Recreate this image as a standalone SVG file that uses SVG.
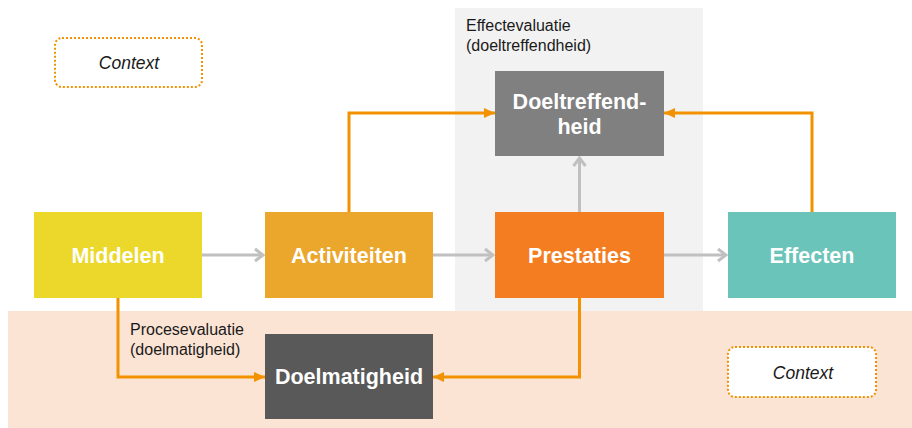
<svg xmlns="http://www.w3.org/2000/svg" width="912" height="428" viewBox="0 0 912 428">
<style>
.node text{font-family:"Liberation Sans",Arial,sans-serif;font-weight:bold;font-size:21.5px;fill:#fff;text-anchor:middle}
.lbl{font-family:"Liberation Sans",Arial,sans-serif;font-size:16px;fill:#1a1a1a}
.ctx rect{fill:#fff;stroke:#F39200;stroke-width:2;stroke-dasharray:2 2}
.ctx text{font-family:"Liberation Sans",Arial,sans-serif;font-style:italic;font-size:17.5px;fill:#1a1a1a;text-anchor:middle}
.g{stroke:#C0C0C0;stroke-width:3;fill:none}
.o{stroke:#F39200;stroke-width:3;fill:none}
</style>
<defs>
<marker id="ag" markerWidth="12" markerHeight="16" refX="10" refY="8" orient="auto" markerUnits="userSpaceOnUse">
<path d="M2,2 L10,8 L2,14" fill="none" stroke="#C0C0C0" stroke-width="3"/>
</marker>
<marker id="ao" markerWidth="12" markerHeight="12" refX="11" refY="6" orient="auto" markerUnits="userSpaceOnUse">
<path d="M0,1 L11,6 L0,11 Z" fill="#F39200"/>
</marker>
</defs>
<rect x="455" y="8" width="248" height="303" fill="#F2F2F2"/>
<rect x="8" y="311" width="904" height="117" fill="#FCE4D5"/>
<text class="lbl" x="466" y="31">Effectevaluatie</text>
<text class="lbl" x="466" y="51">(doeltreffendheid)</text>
<text class="lbl" x="130" y="335">Procesevaluatie</text>
<text class="lbl" x="130" y="355">(doelmatigheid)</text>
<g id="connectors">
<line class="g" x1="202" y1="255" x2="263" y2="255" marker-end="url(#ag)"/>
<line class="g" x1="433" y1="255" x2="493" y2="255" marker-end="url(#ag)"/>
<line class="g" x1="664" y1="255" x2="726" y2="255" marker-end="url(#ag)"/>
<line class="g" x1="579.5" y1="212" x2="579.5" y2="158" marker-end="url(#ag)"/>
<polyline class="o" points="349,212 349,113 495,113" marker-end="url(#ao)"/>
<polyline class="o" points="812,212 812,113 664,113" marker-end="url(#ao)"/>
<polyline class="o" points="118,298 118,377 265,377" marker-end="url(#ao)"/>
<polyline class="o" points="579.5,298 579.5,377 433,377" marker-end="url(#ao)"/>
</g>
<g id="middelen" class="node"><rect x="34" y="212" width="168" height="86" fill="#EBD82B"/><text x="118" y="263">Middelen</text></g>
<g id="activiteiten" class="node"><rect x="265" y="212" width="168" height="86" fill="#EBA62C"/><text x="349" y="263">Activiteiten</text></g>
<g id="prestaties" class="node"><rect x="495" y="212" width="169" height="86" fill="#F47D22"/><text x="579.5" y="263">Prestaties</text></g>
<g id="effecten" class="node"><rect x="728" y="212" width="168" height="86" fill="#6BC4B9"/><text x="812" y="263">Effecten</text></g>
<g id="doeltreffendheid" class="node"><rect x="495" y="71" width="169" height="85" fill="#808080"/><text x="579.5" y="109">Doeltreffend-</text><text x="579.5" y="134">heid</text></g>
<g id="doelmatigheid" class="node"><rect x="265" y="334" width="168" height="85" fill="#595959"/><text x="349" y="384">Doelmatigheid</text></g>
<g id="context1" class="ctx"><rect x="55" y="38" width="147" height="49" rx="7"/><text x="129" y="69">Context</text></g>
<g id="context2" class="ctx"><rect x="728" y="347" width="148" height="50" rx="7"/><text x="803" y="379">Context</text></g>
</svg>
